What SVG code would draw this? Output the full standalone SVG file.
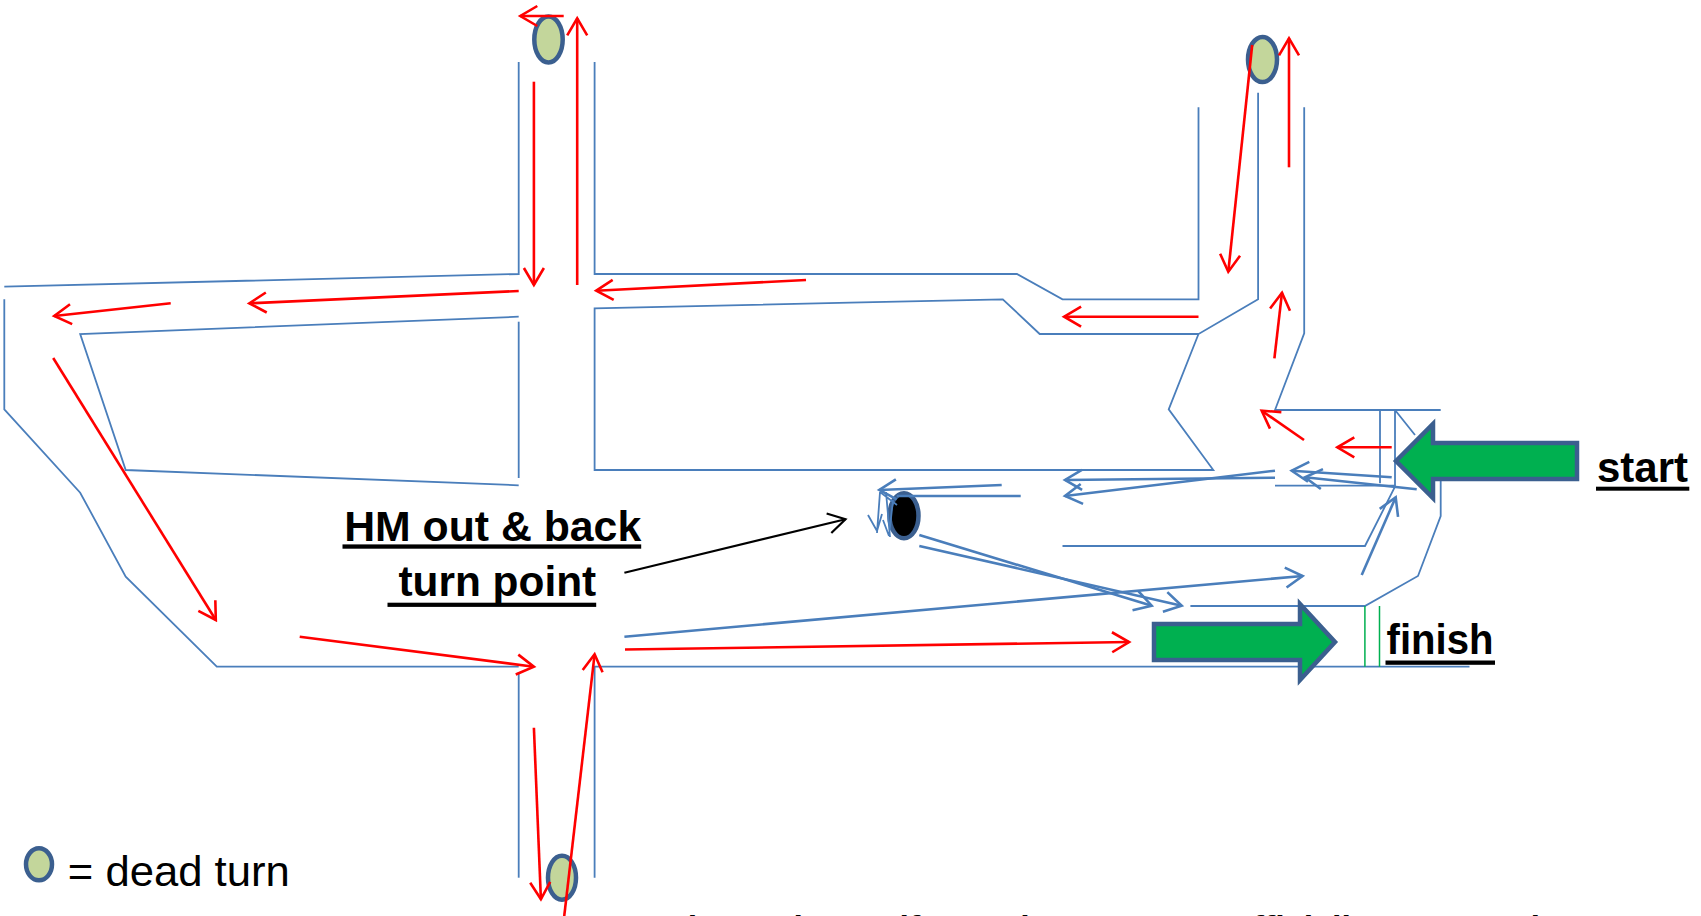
<svg xmlns="http://www.w3.org/2000/svg" width="1701" height="916" viewBox="0 0 1701 916">
<defs>
<style>
.road{fill:none;stroke:#4a7ebb;stroke-width:1.8}
.grn{fill:none;stroke:#00b050;stroke-width:1.5}
.red{fill:none;stroke:#ff0000;stroke-width:2.6;marker-end:url(#mr)}
.blue{fill:none;stroke:#4a7ebb;stroke-width:2.6;marker-end:url(#mb)}
.bluep{fill:none;stroke:#4a7ebb;stroke-width:2.6}
.blk{fill:none;stroke:#000;stroke-width:2.2;marker-end:url(#mk)}
.dead{fill:#c3d69b;stroke:#3b5f8f;stroke-width:4.5}
.garrow{fill:#00b050;stroke:#3b5f8f;stroke-width:4.5;stroke-linejoin:miter}
.lbl{font-family:"Liberation Sans",Arial,sans-serif;font-weight:bold;font-size:42px;fill:#000}
.reg{font-family:"Liberation Sans",Arial,sans-serif;font-size:42px;fill:#000}
</style>
<marker id="mr" markerUnits="userSpaceOnUse" markerWidth="22" markerHeight="24" viewBox="0 0 22 24" refX="19" refY="12" orient="auto"><path d="M2,2 L19,12 L2,22" fill="none" stroke="#ff0000" stroke-width="2.6"/></marker>
<marker id="mb" markerUnits="userSpaceOnUse" markerWidth="22" markerHeight="24" viewBox="0 0 22 24" refX="19" refY="12" orient="auto"><path d="M2,2 L19,12 L2,22" fill="none" stroke="#4a7ebb" stroke-width="2.6"/></marker>
<marker id="mk" markerUnits="userSpaceOnUse" markerWidth="22" markerHeight="24" viewBox="0 0 22 24" refX="19" refY="12" orient="auto"><path d="M2,2 L19,12 L2,22" fill="none" stroke="#000" stroke-width="2.2"/></marker>
</defs>
<rect width="1701" height="916" fill="#fff"/>

<g id="roads">
<path class="road" d="M518.7,62 V274 L4.3,286.7"/>
<path class="road" d="M594.6,62 V274 H1016.9 L1062.5,299.3 H1198.5 V107.3"/>
<path class="road" d="M4.3,299.3 V409.3 L80.2,492.7 L125.7,576.7 L216.8,666.7 H518.7"/>
<path class="road" d="M518.7,672 V877.7"/>
<path class="road" d="M518.7,316.7 L80.2,334 L125.7,470 L518.7,485.3"/>
<path class="road" d="M518.7,321.7 V478"/>
<path class="road" d="M1258.1,92.7 V299.3 L1198.5,334 L1168.7,409.3 L1213.3,470 H594.6 V308.3 L850,302.7 L1002.8,299.3 L1039.7,334 H1198.5"/>
<path class="road" d="M1304.2,107.3 V333.3 L1275,410 H1440.7"/>
<path class="road" d="M1380,410 V483.3 M1395,410 V486.7 M1395,410 L1415,435"/>
<path class="road" d="M1440.7,480 V516 L1418,576 L1364.9,606 H1190.4"/>
<path class="road" d="M1062.5,546 H1365 L1395,486.7"/>
<path class="road" d="M1275,485.7 H1395"/>
<path class="road" d="M594.6,877.7 V666.7 H1469.5"/>
<path class="grn" d="M1364.9,606 V666.7 M1379.5,606 V666.7"/>
</g>

<g id="dead-turn-north"><ellipse class="dead" cx="548.5" cy="39.5" rx="14.2" ry="23"/></g>
<g id="dead-turn-northeast"><ellipse class="dead" cx="1262.5" cy="59.5" rx="14.5" ry="22.5"/></g>
<g id="dead-turn-south"><ellipse class="dead" cx="562" cy="877.7" rx="14" ry="22"/></g>
<g id="hm-turn-point"><ellipse cx="904" cy="515.7" rx="14.5" ry="22.5" fill="#000" stroke="#3b5f8f" stroke-width="4.5"/></g>

<g id="start">
<polygon class="garrow" points="1396,461 1433,424 1433,443 1577,443 1577,479 1433,479 1433,498"/>
<text class="lbl" x="1597" y="481.5" textLength="91" lengthAdjust="spacingAndGlyphs">start</text>
<rect x="1596" y="486.7" width="93.3" height="4" fill="#000"/>
</g>

<g id="finish">
<polygon class="garrow" points="1154,624 1300,624 1300,604 1335,642 1300,680 1300,660 1154,660"/>
<text class="lbl" x="1386.6" y="654.3" textLength="107" lengthAdjust="spacingAndGlyphs">finish</text>
<rect x="1385.5" y="660.5" width="109.5" height="4.3" fill="#000"/>
</g>

<g id="hm-label">
<text class="lbl" x="344.2" y="541" textLength="297" lengthAdjust="spacingAndGlyphs">HM out &amp; back</text>
<rect x="342.5" y="544.4" width="298.7" height="4.3" fill="#000"/>
<text class="lbl" x="398.4" y="596" textLength="197.8" lengthAdjust="spacingAndGlyphs">turn point</text>
<rect x="387.5" y="602.7" width="208.7" height="4.2" fill="#000"/>
</g>

<g id="legend">
<ellipse class="dead" cx="39" cy="864.3" rx="13" ry="16"/>
<text class="reg" x="67.8" y="886" textLength="222" lengthAdjust="spacingAndGlyphs">= dead turn</text>
</g>

<g id="caption">
<text class="lbl" style="font-size:34px" x="667" y="938.5">Fleet 10k &amp; Half Marathon courses officially measured</text>
</g>

<g id="connectors">
<path class="red" d="M563.7,16 L520.3,16"/>
<path class="red" d="M577.2,285 L577.2,18.3"/>
<path class="red" d="M533.9,81.7 L533.9,285"/>
<path class="red" d="M806,280 L596.2,290.7"/>
<path class="red" d="M518.7,291 L249.3,303.3"/>
<path class="red" d="M170.7,303.3 L54.2,316"/>
<path class="red" d="M53.2,358 L215.8,620"/>
<path class="red" d="M299.7,636.7 L533.9,666.7"/>
<path class="red" d="M564,918 L594.6,654.3"/>
<path class="red" d="M533.9,727.7 L540.9,899.3"/>
<path class="red" d="M625,649.5 L1129.1,642"/>
<path class="red" d="M1252.2,45 L1228.3,271.7"/>
<path class="red" d="M1289,167.3 L1289,38.3"/>
<path class="red" d="M1198.5,316.7 L1064.1,316.7"/>
<path class="red" d="M1274.4,358.3 L1282,292.7"/>
<path class="red" d="M1304,440 L1261.7,410.7"/>
<path class="red" d="M1391.7,447.3 L1337.3,447.3"/>

<path class="blue" d="M1001.7,485 L879.3,490"/>
<path class="bluep" d="M1020.7,496 L896.7,496"/>
<path class="blue" d="M1275,477.7 L1065,480"/>
<path class="blue" d="M1275,470.7 L1065,496"/>
<path class="blue" d="M1391.7,477.3 L1291.7,470.7"/>
<path class="blue" d="M1416.7,489.3 L1305,477.3"/>
<path class="blue" d="M919.3,535 L1151.7,605.7"/>
<path class="blue" d="M919.3,546 L1181.7,605.7"/>
<path class="blue" d="M624.4,636.7 L1302.6,576"/>
<path class="blue" d="M1361.7,575 L1395.7,497.3"/>
<path class="bluep" style="stroke-width:1.8" d="M880,492 L877,533 M886,492 L890,537 M868,515 L877,531 L882,514 M883,520 L889,536 M880,492 L897,505 M893,500 L889,536"/>

<path class="blk" d="M624.4,572.7 L845.5,519.3"/>
</g>
</svg>
